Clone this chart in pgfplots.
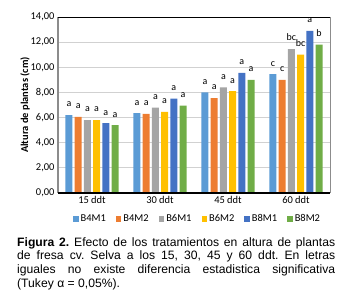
\documentclass[border=0pt]{standalone}
\usepackage{fontspec}
\setmainfont{Carlito}
\newfontfamily\capfont{Liberation Sans}
\usepackage{pgfplots}
\pgfplotsset{compat=1.18}
\definecolor{c1}{HTML}{5B9BD5}
\definecolor{c2}{HTML}{ED7D31}
\definecolor{c3}{HTML}{A5A5A5}
\definecolor{c4}{HTML}{FFC000}
\definecolor{c5}{HTML}{4472C4}
\definecolor{c6}{HTML}{70AD47}
\pgfplotsset{sqlegend/.style={legend image code/.code={\fill[##1] (0bp,-2.8bp) rectangle (5.6bp,2.8bp);}}}
\begin{document}
\begin{tikzpicture}
\begin{axis}[
  at={(58bp,107bp)}, anchor=south west,
  scale only axis, width=272bp, height=176bp,
  ybar=2.2bp, bar width=7bp,
  ymin=0, ymax=14, ytick={0,2,...,14},
  xmin=-0.5, xmax=3.5, xtick={0,1,2,3},
  xticklabels={15 ddt,30 ddt,45 ddt,60 ddt},
  yticklabel={\pgfmathprintnumber[fixed,fixed zerofill,precision=2,use comma,assume math mode=true]{\tick}},
  ymajorgrids, grid style={black!18, line width=0.8bp},
  major tick length=0,
  axis line style={draw=none},
  tick label style={font=\fontsize{10.5}{12}\selectfont},
  ylabel={Altura de plantas (cm)},
  every axis y label/.style={at={(rel axis cs:0,0.5)}, xshift=-33bp, rotate=90, anchor=center,
    font=\fontsize{10.5}{12}\selectfont\bfseries},
  clip=false,
  legend style={at={(0.513,-0.148)}, anchor=center, draw=none, fill=none,
    legend columns=6, font=\fontsize{10.5}{12}\selectfont,
    /tikz/every even column/.append style={column sep=8bp},
    inner sep=0pt},
  legend cell align=left,
  every axis plot post/.append style={sqlegend},
  nodes near coords, point meta=explicit symbolic,
  nodes near coords style={font=\fontsize{10}{12}\selectfont, anchor=south, yshift=4.5bp, text=black},
]
\addplot[fill=c1, draw=none] coordinates {(0,6.2)[a] (1,6.35)[a] (2,8.0)[a] (3,9.45)[c]};
\addplot[fill=c2, draw=none] coordinates {(0,6.05)[a] (1,6.3)[a] (2,7.55)[a] (3,9.0)[c]};
\addplot[fill=c3, draw=none] coordinates {(0,5.8)[a] (1,6.8)[a] (2,8.4)[a] (3,11.45)[bc]};
\addplot[fill=c4, draw=none] coordinates {(0,5.8)[a] (1,6.45)[a] (2,8.1)[a] (3,11.0)[bc]};
\addplot[fill=c5, draw=none] coordinates {(0,5.55)[a] (1,7.5)[a] (2,9.55)[a] (3,12.9)[a]};
\addplot[fill=c6, draw=none] coordinates {(0,5.4)[a] (1,6.95)[a] (2,9.0)[a] (3,11.8)[b]};
\legend{B4M1,B4M2,B6M1,B6M2,B8M1,B8M2}
\end{axis}
\draw[black!45, line width=1.5bp] (current axis.south west) -- (current axis.north west);
\draw[black!45, line width=0.8bp] (current axis.south east) -- (current axis.north east);
\draw[black, line width=0.8bp] (current axis.north west) -- (current axis.north east);
\draw[black, line width=1.5bp] (current axis.south west) -- (current axis.south east);
\node[anchor=north west, inner sep=0pt, align=left,
  font=\capfont\fontsize{12.2}{13.8}\selectfont\frenchspacing] at (17bp,63bp)
  {\makebox[318bp][s]{\textbf{Figura 2.} Efecto de los tratamientos en altura de plantas}\\
   \makebox[318bp][s]{de fresa cv. Selva a los 15, 30, 45 y 60 ddt. En letras}\\
   \makebox[318bp][s]{iguales no existe diferencia estadistica significativa}\\
   (Tukey α = 0,05\%).};
\pgfresetboundingbox
\path[use as bounding box] (0,0) rectangle (354bp,300bp);
\end{tikzpicture}
\end{document}
